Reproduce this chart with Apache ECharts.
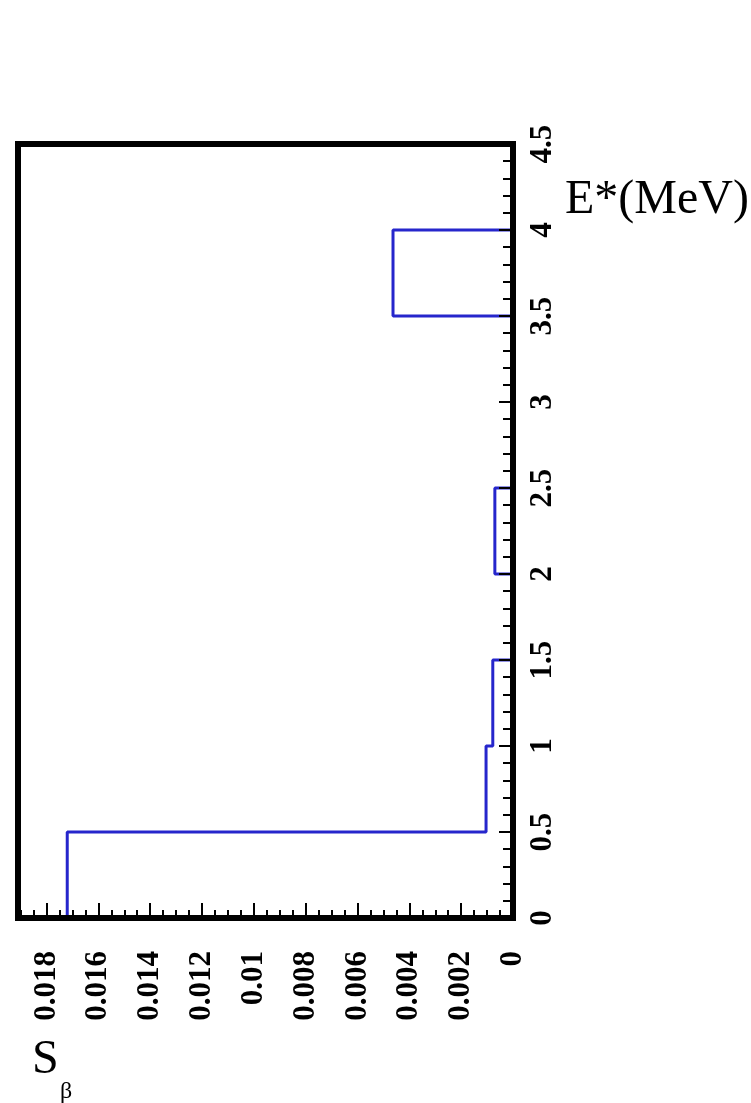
<!DOCTYPE html>
<html>
<head>
<meta charset="utf-8">
<script src="https://cdn.jsdelivr.net/npm/echarts@6/dist/echarts.min.js"></script>
<style>
html,body{margin:0;padding:0;background:#fff;}
#chart{width:751px;height:1103px;}
</style>
</head>
<body>
<div id="chart"></div>
<script>
// Bin edges of E* (MeV)
const binEdges = [0, 0.5, 1, 1.5, 2, 2.5, 3, 3.5, 4, 4.5];
// S_beta content per bin
const sBeta = [0.0172, 0.00104, 0.00078, 0, 0.0007, 0, 0, 0.00463, 0];
// Axis tick labels
const eTicks = ['0', '0.5', '1', '1.5', '2', '2.5', '3', '3.5', '4', '4.5'];
const sMax = 0.0191;

// histogram outline points built from the arrays
const outline = [];
for (let i = 0; i < sBeta.length; i++) {
  outline.push([sBeta[i], binEdges[i]]);
  outline.push([sBeta[i], binEdges[i + 1]]);
}

const chart = echarts.init(document.getElementById('chart'));
const labelFont = { color: '#000', fontFamily: 'Liberation Serif', fontWeight: 'bold', fontSize: 31 };

chart.setOption({
  backgroundColor: '#fff',
  animation: false,
  grid: {
    left: 18, right: 238, top: 144, bottom: 185,
    show: true, borderColor: '#000', borderWidth: 6, backgroundColor: 'transparent'
  },
  xAxis: {
    type: 'value', inverse: true, min: 0, max: sMax, interval: 0.002,
    position: 'bottom', z: 10,
    splitLine: { show: false },
    axisLine: { show: true, onZero: false, lineStyle: { color: '#000', width: 6 } },
    axisTick: { show: true, inside: true, length: 15, lineStyle: { color: '#000', width: 2 } },
    minorTick: { show: true, splitNumber: 4, length: 8, lineStyle: { color: '#000', width: 2 } },
    axisLabel: Object.assign({ rotate: 90, margin: 33, showMaxLabel: false }, labelFont)
  },
  yAxis: {
    type: 'value', min: 0, max: 4.5, interval: 0.5,
    position: 'right', z: 10,
    splitLine: { show: false },
    axisLine: { show: true, onZero: false, lineStyle: { color: '#000', width: 6 } },
    axisTick: { show: true, inside: true, length: 14, lineStyle: { color: '#000', width: 2 } },
    minorTick: { show: true, splitNumber: 5, length: 10, lineStyle: { color: '#000', width: 2 } },
    axisLabel: Object.assign({
      rotate: 90, margin: 14,
      formatter: function (v) { const i = Math.round(v / 0.5); return eTicks[i] !== undefined ? eTicks[i] : ''; }
    }, labelFont)
  },
  series: [{
    type: 'line',
    data: outline,
    symbol: 'none',
    z: 5,
    lineStyle: { color: '#2626cc', width: 3 }
  }],
  graphic: [
    { type: 'text', left: 565, top: 176, style: { text: 'E*(MeV)', font: '48px "Liberation Serif"', fill: '#000' } },
    { type: 'text', left: 32, top: 1036, style: { text: 'S', font: '48px "Liberation Serif"', fill: '#000' } },
    { type: 'text', left: 60, top: 1080, style: { text: 'β', font: '24px "Liberation Serif"', fill: '#000' } }
  ]
});
</script>
</body>
</html>
